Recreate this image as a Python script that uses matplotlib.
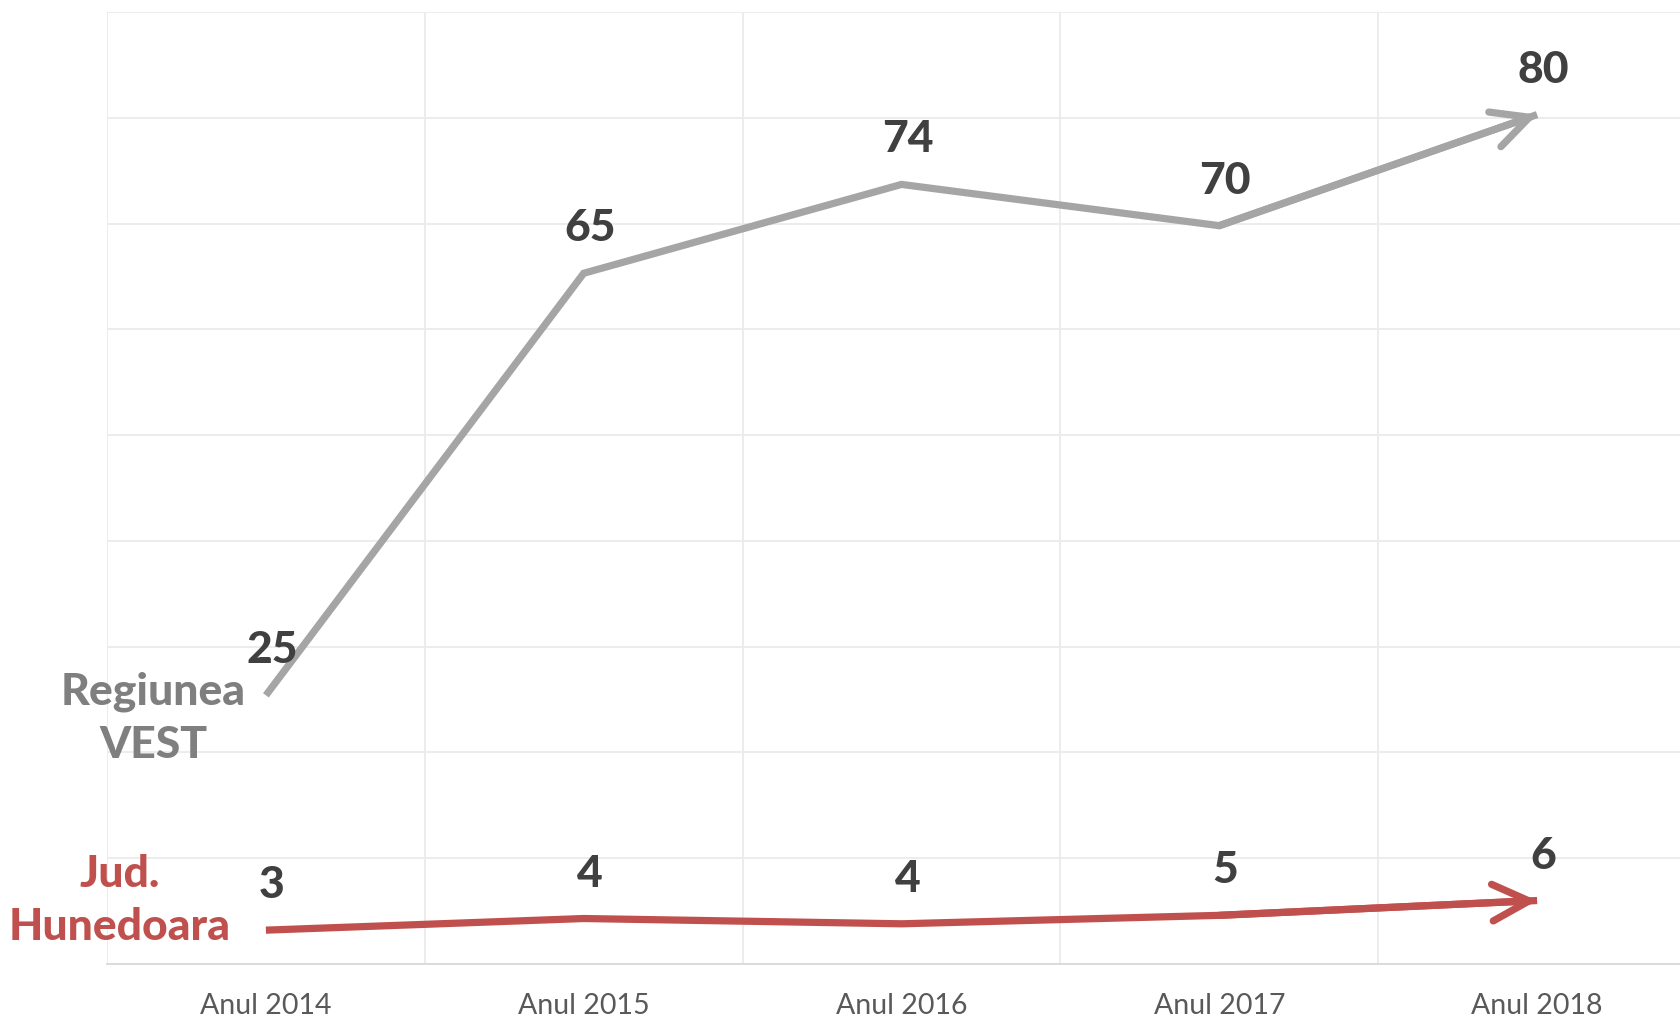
import matplotlib.pyplot as plt

years = ["Anul 2014", "Anul 2015", "Anul 2016", "Anul 2017", "Anul 2018"]
vest = [25.4, 65.3, 73.7, 69.8, 80.3]
hunedoara = [3.2, 4.3, 3.8, 4.6, 6.0]

GRAY = "#a5a5a5"
RED = "#c0504d"
LABEL = "#404040"

plt.rcParams["font.family"] = ["Lato", "DejaVu Sans"]

fig = plt.figure(figsize=(16.81, 10.18), dpi=100)
ax = fig.add_axes([107 / 1681, 54 / 1018, (1696 - 107) / 1681, (964 - 12) / 1018])

x = list(range(len(years)))


def draw_series(values, color):
    ax.plot(x, values, color=color, lw=5.2, solid_joinstyle="miter",
            solid_capstyle="butt", zorder=3)
    ax.annotate("", xy=(x[-1], values[-1]), xytext=(x[-2], values[-2]),
                arrowprops=dict(arrowstyle="->,head_length=1.2,head_width=0.6",
                                color=color, lw=5.2, shrinkA=0, shrinkB=0,
                                mutation_scale=22, capstyle="round"),
                zorder=3)
    for xi, v in zip(x, values):
        ax.annotate(f"{v:.0f}", xy=(xi, v), xytext=(6, 45),
                    textcoords="offset pixels", ha="center", va="center",
                    fontsize=32, fontweight=900, color=LABEL, zorder=4)


draw_series(vest, GRAY)
draw_series(hunedoara, RED)

ax.text(-0.355, 23.2, "Regiunea\nVEST", ha="center", va="center",
        fontsize=32, fontweight=900, color="#7f7f7f", linespacing=1.4)
ax.text(-0.46, 6.0, "Jud.\nHunedoara", ha="center", va="center",
        fontsize=32, fontweight=900, color=RED, linespacing=1.4,
        clip_on=False)

ax.set_xlim(-0.5, 4.5)
ax.set_ylim(0, 90)
ax.set_yticks(range(0, 91, 10))
ax.set_yticklabels([])
ax.set_xticks(x)
ax.set_xticklabels(years, fontsize=20.5, color="#595959")
ax.set_xticks([i - 0.5 for i in range(len(years) + 1)], minor=True)
ax.tick_params(axis="both", which="both", length=0)
ax.tick_params(axis="x", pad=21)
ax.grid(True, axis="y", color="#ebebeb", lw=1.3)
ax.grid(True, axis="x", which="minor", color="#ebebeb", lw=1.3)
ax.set_axisbelow(True)
for side in ["top", "right", "left"]:
    ax.spines[side].set_visible(False)
ax.spines["bottom"].set_color("#d9d9d9")
ax.spines["bottom"].set_linewidth(1.3)

fig.savefig("out.png", dpi=100)
